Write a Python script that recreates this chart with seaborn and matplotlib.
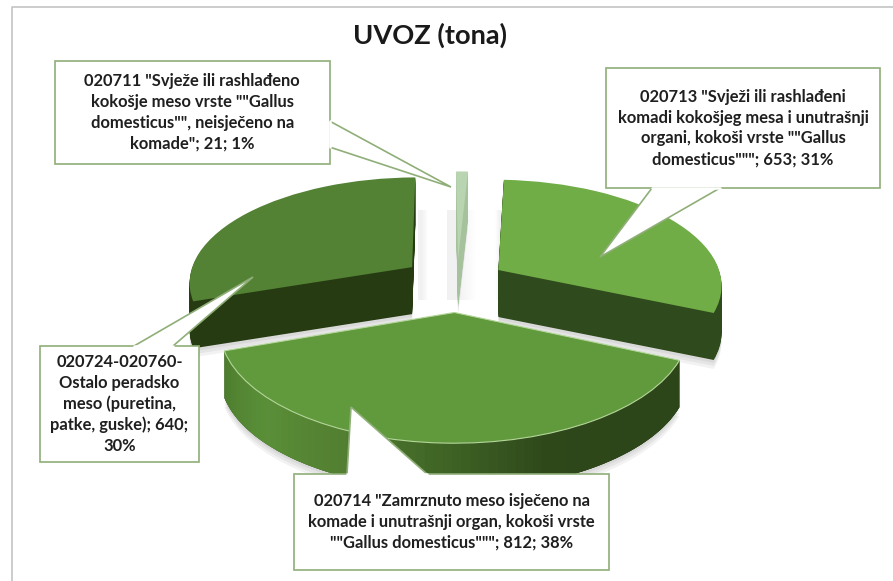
import numpy as np
import matplotlib
matplotlib.use('Agg')
import matplotlib.pyplot as plt
import matplotlib.transforms as mtransforms
from matplotlib.patches import Polygon
import seaborn as sns

# slices, clockwise from the top
values = [653, 812, 640, 21]
labels = [
    '020713 "Svježi ili rashlađeni\nkomadi kokošjeg mesa i unutrašnji\norgani, kokoši vrste ""Gallus\ndomesticus"""; 653; 31%',
    '020714 "Zamrznuto meso isječeno na\nkomade i unutrašnji organ, kokoši vrste\n""Gallus domesticus"""; 812; 38%',
    '020724-020760-\nOstalo peradsko\nmeso (puretina,\npatke, guske); 640;\n30%',
    '020711 "Svježe ili rashlađeno\nkokošje meso vrste ""Gallus\ndomesticus"", neisječeno na\nkomade"; 21; 1%',
]
explode = [0.22, 0.28, 0.25, 0.22]
top_colors = ['#70ad47', '#609a3d', '#548235', '#b9d4b0']
wall_colors = ['#2f4a1c', '#2d4619', '#263b11', '#a6c29c']
slice_z = [3, 4, 2, 1]

# callouts in pixels: box (x0, y0, x1, y1) and pointer (start, tip, end)
boxes = [(606, 68, 880, 188), (294, 474, 609, 570), (40, 346, 199, 462), (55, 61, 329.5, 164)]
pointers = [
    [(652, 188), (600, 257), (720, 188)],
    [(347, 474), (351, 407), (427, 474)],
    [(134, 346), (253, 277), (173, 346)],
    [(329.5, 121), (451, 187), (329.5, 147)],
]

DEPTH = 47
START = 87


class Tilt(mtransforms.Transform):
    # projects the flat unit pie to pixels with some perspective
    input_dims = 2
    output_dims = 2
    is_separable = False

    def __init__(self, dy=0):
        super().__init__()
        self.dy = dy

    def transform_non_affine(self, xy):
        xy = np.asarray(xy, dtype=float)
        w = 1 + 0.13 * xy[:, 1]
        return np.column_stack([457 + 224 * xy[:, 0] / w, 282 + self.dy - 105 * xy[:, 1] / w])


sns.set_theme(style='white')
plt.rcParams['font.family'] = ['Lato', 'DejaVu Sans']

fig = plt.figure(figsize=(8.93, 5.81), dpi=100)
ax = fig.add_axes([0, 0, 1, 1])


def draw_pie(colors, dy, z_add, alpha=None, ec='none', lw=0):
    wedges, _ = ax.pie(values, explode=explode, startangle=START, counterclock=False, colors=colors,
                       wedgeprops=dict(linewidth=lw, edgecolor=ec, alpha=alpha))
    for w, z in zip(wedges, slice_z):
        w.set_transform(Tilt(dy) + ax.transData)
        w.set_zorder(z + z_add)
    return wedges


# pale shadow bands behind the thin slice
for x0, x1, fade_right in [(418, 428, True), (447, 476, True), (495, 503, False)]:
    edges = np.linspace(x0, x1, 16)
    for i in range(15):
        f = (15 - i) / 15 if fade_right else (i + 1) / 15
        ax.fill([edges[i], edges[i + 1], edges[i + 1], edges[i]], [210, 210, 300, 300],
                color='#000000', alpha=0.055 * min(1, f * 1.6), lw=0, zorder=0.2)

# soft shadow under the pie
for off in [3, 6, 9]:
    draw_pie(['#000000'] * 4, DEPTH + off, -2.5, alpha=0.05)

# walls, swept down from the top face
for d in range(DEPTH, 0, -1):
    draw_pie(wall_colors, d, 0.1 + 0.3 * (DEPTH - d) / DEPTH)

top = draw_pie(top_colors, 0, 0.7)
top[1].set_edgecolor('#b5d69a')
top[1].set_linewidth(0.8)

# lighter left side of the front wall
front = top[1]
tilt = Tilt()
n = 70
shades = sns.blend_palette(['#4d7d2e', '#5a8f38', '#527f31', '#3f6425', '#2e481a', '#2d4619', '#2d4619'], n)
th = np.radians(np.linspace(front.theta1, front.theta2, n + 1))
ring = tilt.transform(np.column_stack([front.center[0] + np.cos(th), front.center[1] + np.sin(th)]))
for i in range(n):
    a, b = ring[i], ring[min(i + 2, n)]
    ax.fill([a[0], b[0], b[0], a[0]], [a[1], b[1], b[1] + DEPTH, a[1] + DEPTH],
            color=shades[i], lw=0, zorder=4.5)

# callouts
for box, ptr, text in zip(boxes, pointers, labels):
    x0, y0, x1, y1 = box
    ax.add_patch(Polygon([(x0, y0), (x1, y0), (x1, y1), (x0, y1)], fc='white', ec='#8fae78', lw=1.2, zorder=10))
    ax.add_patch(Polygon(ptr, closed=False, fc='white', ec='#8fae78', lw=1.2, zorder=11))
    ax.plot([ptr[0][0], ptr[2][0]], [ptr[0][1], ptr[2][1]], color='white', lw=1.8, zorder=12)
    ax.text((x0 + x1) / 2, (y0 + y1) / 2, text, ha='center', va='center', fontsize=11.9, fontweight='bold',
            color='#1f1f1f', linespacing=1.36, zorder=13)

ax.text(430, 35, 'UVOZ (tona)', ha='center', va='center', fontsize=19.6, fontweight='bold', color='#1a1a1a')

# slide frame
ax.plot([11.5, 11.5, 893], [581, 6.5, 6.5], color='#c4c4c4', lw=1.2, zorder=0)

ax.set_aspect('auto')
ax.set_xlim(0, 893)
ax.set_ylim(581, 0)
ax.axis('off')

fig.savefig('out.png', dpi=100)
